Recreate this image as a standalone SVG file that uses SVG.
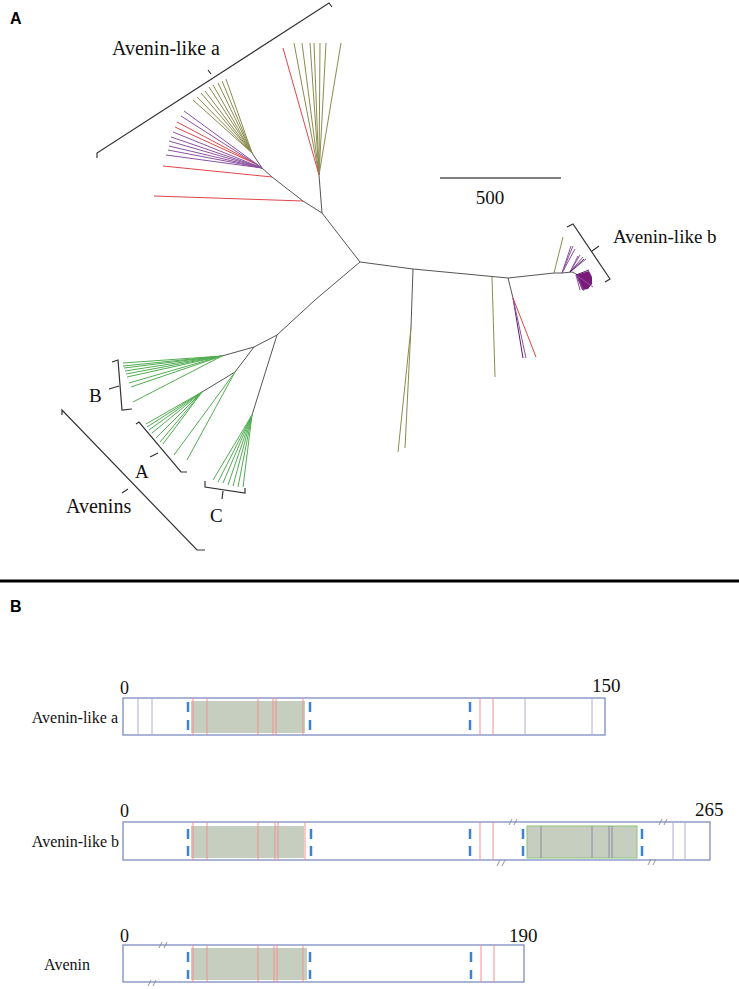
<svg xmlns="http://www.w3.org/2000/svg" width="739" height="989" viewBox="0 0 739 989">
<style>
.t{stroke:#555;stroke-width:1;fill:none}
.ol{stroke:#8b8b4e;stroke-width:1;fill:none}
.pu{stroke:#8a52a0;stroke-width:1;fill:none}
.dp{stroke:#5a1a6a;stroke-width:1;fill:none}
.rd{stroke:#e0464a;stroke-width:1;fill:none}
.gr{stroke:#52ad52;stroke-width:1;fill:none}
.br{stroke:#333;stroke-width:1.2;fill:none}
.lbl{font-family:"Liberation Serif","Times New Roman",serif;fill:#111}
.pl{font-family:"Liberation Sans",Arial,sans-serif;font-weight:bold;font-size:16px;fill:#000}
.bar{fill:#fff;stroke:#7b8cc0;stroke-width:1.3}
.sh{fill:#c6cfbf}
.sh2{fill:#c6cfbf;stroke:#8cc47a;stroke-width:1}
.lv{stroke:#b4acd4;stroke-width:1}
.lr{stroke:#f29090;stroke-width:1}
.lg{stroke:#8a8aa0;stroke-width:1}
.ds{stroke:#3b82d6;stroke-width:2.5}
.bk{stroke:#888;stroke-width:0.9}
</style>
<rect width="739" height="989" fill="#fff"/>
<text class="pl" x="10" y="24">A</text>
<text class="pl" x="10" y="612">B</text>
<line x1="0" y1="581" x2="739" y2="581" stroke="#000" stroke-width="3"/>

<g id="connectors">
<!-- trunks -->
<polyline class="t" points="360,262 322,213 319,175"/>
<polyline class="t" points="322,213 303,201 272,177 262,168 252,153"/>
<polyline class="t" points="360,262 413,269 508,278 554,273 562,273 572,272 580,276"/>
<polyline class="t" points="360,262 315,300 277,335 254,347 222,356"/>
<polyline class="t" points="254,347 235,372 202,392"/>
<polyline class="t" points="277,335 252,415"/>
<polyline class="t" points="413,269 411,327"/>
<polyline class="t" points="508,278 513,298"/>
<!-- avenin-like a upper fan -->
<path class="ol" d="M319,175L294,43M319,175L302,43M319,175L310,43M319,175L314,43M319,175L320,43M319,175L326,43M319,175L341,43"/>
<path class="rd" d="M319,175L283,48"/>
<!-- avenin-like a left fans -->
<path class="rd" d="M303,201L154,196M272,177L163,166M258,165L177,122M258,165L175,127"/>
<path class="pu" d="M262,168L184,111M262,168L181,116M262,168L173,132M262,168L171,137M262,168L169,141M262,168L169,146M262,168L168,150M262,168L166,155"/>
<path class="ol" d="M252,153L193,100M252,153L197,97M252,153L201,93M252,153L205,91M252,153L209,87M252,153L213,85M252,153L218,83M252,153L222,81M252,153L226,79"/>
<!-- middle branches -->
<path class="ol" d="M411,327L398,452M411,327L405,448M492,277L495,377"/>
<path class="dp" d="M513,298L523,358"/>
<path class="pu" d="M513,298L526,358"/>
<path class="rd" d="M513,298L536,357"/>
<!-- avenin-like b -->
<path class="ol" d="M554,273L563,237"/>
<path class="pu" d="M562,273L573,246M562,273L571,246M562,273L575,249"/>
<path class="pu" d="M570,272L580,255M570,272L583,257M570,272L586,259M570,272L578,256"/>
<path class="dp" d="M570,272L584,259"/>
<polygon points="576,275 589,271 592,277 592,284 588,289 582,290" fill="#7a1a7a"/>
<path class="pu" d="M576,275L584,291M576,275L580,290M576,275L593,287"/>
<path class="dp" d="M576,275L589,270"/>
<!-- avenins -->
<path class="gr" d="M222,356L123,363M222,356L123,366M222,356L124,368M222,356L125,371M222,356L126,374M222,356L127,377M222,356L129,383M222,356L131,387M222,356L133,402"/>
<path class="gr" d="M202,392L146,424M202,392L147,427M202,392L149,430M202,392L152,433M202,392L156,438M202,392L160,442M202,392L163,444"/>
<path class="gr" d="M235,372L174,455M235,372L187,460"/>
<path class="gr" d="M252,415L213,480M252,415L218,482M252,415L223,483M252,415L228,485M252,415L233,486M252,415L238,487M252,415L243,487"/>
<!-- brackets -->
<path class="br" d="M97,158L97,153L329,3L332,7M211,74L208,70"/>
<path class="br" d="M567,227L573,224L610,279L605,282M592,251L599,246"/>
<path class="br" d="M112,362L118,360L122,410L132,409M119,386L109,389"/>
<path class="br" d="M136,424L139,422L181,472L187,472M158,453L150,457"/>
<path class="br" d="M205,481L205,487L245,493L245,488M223,491L222,499"/>
<path class="br" d="M62,415L62,410L197,550L205,550M128,489L122,493"/>
<!-- scale bar -->
<line x1="440" y1="178" x2="561" y2="178" stroke="#000" stroke-width="1.2"/>
</g>

<g id="labels-a">
<text class="lbl" x="112" y="55" font-size="20">Avenin-like a</text>
<text class="lbl" x="613" y="243" font-size="19">Avenin-like b</text>
<text class="lbl" x="89" y="402" font-size="19">B</text>
<text class="lbl" x="135" y="478" font-size="19">A</text>
<text class="lbl" x="210" y="522" font-size="19">C</text>
<text class="lbl" x="66" y="513" font-size="20">Avenins</text>
<text class="lbl" x="490" y="204" font-size="19" text-anchor="middle">500</text>
</g>

<g id="bar-avenin-like-a">
<rect class="bar" x="123" y="698" width="482" height="37"/>
<rect class="sh" x="191" y="701" width="114" height="32"/>
<path class="lv" d="M138,698V735M152,698V735M525,698V735M592,698V735"/>
<path class="lr" d="M193,698V735M207,698V735M258,698V735M273,698V735M276,698V735M303,698V735M480,698V735M493,698V735"/>
<path class="ds" d="M188,702V712M188,720V730M310,702V712M310,720V730M470,702V712M470,720V730"/>
<text class="lbl" x="120" y="694" font-size="18">0</text>
<text class="lbl" x="592" y="692" font-size="19">150</text>
<text class="lbl" x="118" y="723" font-size="16" text-anchor="end">Avenin-like a</text>
</g>

<g id="bar-avenin-like-b">
<rect class="bar" x="123" y="822" width="587" height="38"/>
<rect class="sh" x="191" y="826" width="113" height="32"/>
<rect class="sh2" x="527" y="826" width="110" height="32"/>
<path class="lr" d="M193,822V860M207,822V860M258,822V860M275,822V860M278,822V860M305,822V860M480,822V860M493,822V860"/>
<path class="lg" d="M541,826V858M592,826V858M609,826V858M612,826V858"/>
<path class="lv" d="M673,822V860M685,822V860"/>
<path class="ds" d="M188,829V839M188,846V856M311,829V839M311,846V856M470,829V839M470,846V856M523,829V839M523,846V856M642,829V839M642,846V856"/>
<path class="bk" d="M509,825L512,819M514,825L517,819M497,866L500,860M502,866L505,860M659,825L662,819M664,825L667,819M648,865L651,859M653,865L656,859"/>
<text class="lbl" x="120" y="817" font-size="18">0</text>
<text class="lbl" x="695" y="816" font-size="19">265</text>
<text class="lbl" x="119" y="847" font-size="16" text-anchor="end">Avenin-like b</text>
</g>

<g id="bar-avenin">
<rect class="bar" x="123" y="945" width="401" height="37"/>
<rect class="sh" x="191" y="948" width="116" height="32"/>
<path class="lr" d="M193,945V982M207,945V982M258,945V982M274,945V982M277,945V982M303,945V982M481,945V982M494,945V982"/>
<path class="ds" d="M188,952V962M188,970V979M310,952V962M310,970V979M471,952V962M471,970V979"/>
<path class="bk" d="M159,948L162,942M164,948L167,942M148,986L151,980M153,986L156,980"/>
<text class="lbl" x="120" y="942" font-size="18">0</text>
<text class="lbl" x="509" y="942" font-size="19">190</text>
<text class="lbl" x="90" y="970" font-size="16" text-anchor="end">Avenin</text>
</g>
</svg>
